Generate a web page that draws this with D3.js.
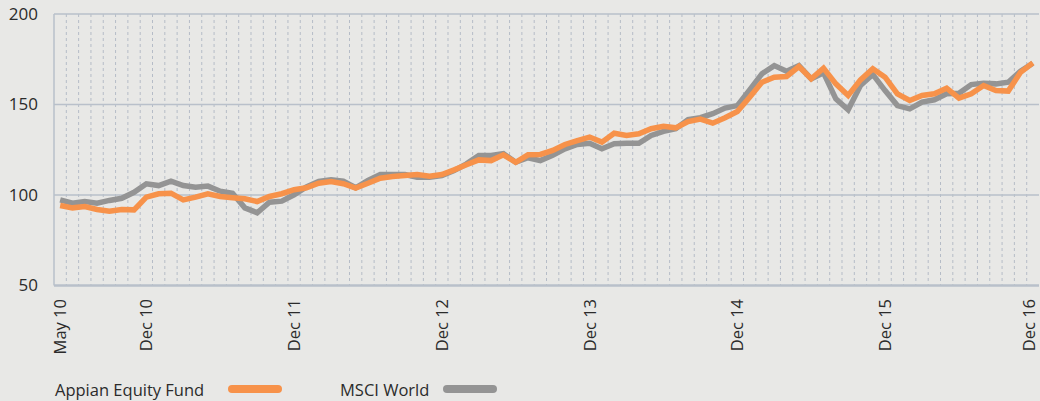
<!DOCTYPE html>
<html>
<head>
<meta charset="utf-8">
<script src="https://cdn.jsdelivr.net/npm/d3@7"></script>
<style>
    html, body { margin: 0; padding: 0; background: #e8e8e6; }
    svg { display: block; font-family: "Open Sans", "Noto Sans", sans-serif; }
    .grid line { stroke: #b9c0ca; stroke-width: 1.5px; }
    .month line { stroke: #b5bcc7; stroke-width: 1px; stroke-dasharray: 3 3; }
    .ylabel { font-size: 17px; fill: #2b2b2b; }
    .xlabel { font-size: 16.5px; fill: #2b2b2b; }
    .legend text { font-size: 16.5px; fill: #2b2b2b; }
</style>
</head>
<body>
<div id="chart"></div>
<script>
// Monthly index values, May 2010 .. Dec 2016
var startMonth = new Date(2010, 4, 1);
var endMonth = new Date(2016, 11, 1);

var appian = [
    94.2, 92.9, 93.6, 92.0, 91.0, 92.0, 91.8, 98.8, 100.7, 101.0,
    97.3, 98.8, 100.7, 99.2, 98.5, 97.9, 96.4, 99.2, 100.7, 102.9,
    104.0, 106.5, 107.5, 106.2, 103.8, 106.5, 109.3, 110.2, 110.8, 111.3,
    110.4, 111.3, 113.9, 116.7, 119.4, 119.0, 122.2, 118.1, 122.2, 122.4,
    124.6, 127.9, 130.1, 132.0, 129.2, 134.1, 132.9, 133.8, 136.6, 138.0,
    137.1, 140.6, 141.9, 139.7, 142.7, 146.1, 154.0, 162.3, 165.1, 165.5,
    171.0, 164.2, 170.1, 161.4, 155.0, 163.6, 169.7, 165.1, 155.9, 152.2,
    155.0, 155.9, 159.0, 153.5, 155.9, 160.5, 157.7, 157.4, 167.8, 173.0
];

var msci = [
    97.3, 95.5, 96.4, 95.5, 97.0, 98.2, 101.5, 106.2, 105.2, 107.6,
    105.2, 104.3, 104.9, 102.1, 101.0, 92.9, 90.2, 96.0, 96.6, 100.1,
    104.5, 107.5, 108.4, 107.6, 104.0, 108.0, 111.3, 111.3, 111.3, 109.8,
    109.8, 110.8, 113.5, 117.2, 121.8, 121.8, 122.8, 118.1, 120.6, 119.0,
    122.0, 125.5, 127.9, 128.6, 125.5, 128.3, 128.6, 128.6, 132.9, 135.2,
    136.6, 141.7, 142.7, 144.9, 148.0, 149.4, 158.1, 167.0, 171.5, 168.4,
    171.5, 164.2, 167.5, 153.1, 147.1, 160.5, 166.6, 157.7, 149.4, 147.6,
    151.3, 152.6, 155.9, 156.2, 161.0, 161.8, 161.4, 162.3, 168.4, 172.8
];

var yTicks = [50, 100, 150, 200];
var xTickLabels = ["May 10", "Dec 10", "Dec 11", "Dec 12", "Dec 13", "Dec 14", "Dec 15", "Dec 16"];

var seriesNames = ["Appian Equity Fund", "MSCI World"];
var seriesColors = ["#f7924a", "#949494"];

var width = 1040, height = 401;
var margin = { top: 14, right: 1, bottom: 115, left: 54 };

var fmtMonth = d3.timeFormat("%b %y");
var months = d3.timeMonth.range(startMonth, d3.timeMonth.offset(endMonth, 1)).map(fmtMonth);

var svg = d3.select("#chart")
    .append("svg")
    .attr("width", width)
    .attr("height", height);

var x = d3.scaleBand()
    .domain(months)
    .range([margin.left, width - margin.right])
    .padding(0);

var y = d3.scaleLinear()
    .domain([50, 200])
    .range([height - margin.bottom - 0.5, margin.top]);

// Monthly dotted lines at band edges
svg.append("g")
    .attr("class", "month")
    .selectAll("line")
    .data(months.slice(1))
    .enter()
    .append("line")
    .attr("x1", function(d) { return x(d); })
    .attr("x2", function(d) { return x(d); })
    .attr("y1", y(200))
    .attr("y2", y(50));

// Horizontal gridlines
svg.append("g")
    .attr("class", "grid")
    .selectAll("line")
    .data(yTicks)
    .enter()
    .append("line")
    .attr("x1", margin.left)
    .attr("x2", width - margin.right)
    .attr("y1", function(d) { return y(d); })
    .attr("y2", function(d) { return y(d); })
    .style("stroke-width", function(d) { return d === 50 ? "2.5px" : "1.5px"; });

// Left axis line
svg.append("line")
    .attr("x1", margin.left)
    .attr("x2", margin.left)
    .attr("y1", y(200))
    .attr("y2", y(50))
    .style("stroke", "#b9c0ca")
    .style("stroke-width", "1.5px");

// Y labels
svg.selectAll(".ylabel")
    .data(yTicks)
    .enter()
    .append("text")
    .attr("class", "ylabel")
    .attr("x", 38)
    .attr("y", function(d) { return y(d); })
    .attr("dy", "0.35em")
    .attr("text-anchor", "end")
    .text(function(d) { return d; });

// X labels, rotated (last one kept inside the frame)
svg.selectAll(".xlabel")
    .data(xTickLabels)
    .enter()
    .append("text")
    .attr("class", "xlabel")
    .attr("transform", function(d) {
        var cx = Math.min(x(d) + x.bandwidth() / 2 + 6, width - 5);
        return "translate(" + cx + "," + 299 + ") rotate(-90)";
    })
    .attr("text-anchor", "end")
    .text(function(d) { return d; });

var line = d3.line()
    .x(function(d, i) { return x(months[i]) + x.bandwidth() / 2; })
    .y(function(d) { return y(d); });

// Grey first, orange on top
[msci, appian].forEach(function(values, k) {
    svg.append("path")
        .datum(values)
        .attr("fill", "none")
        .attr("stroke", k === 0 ? seriesColors[1] : seriesColors[0])
        .attr("stroke-width", 5.5)
        .attr("stroke-linejoin", "miter")
        .attr("d", line);
});

// Legend
var legendX = [55, 340];
var swatchX = [228, 443];
var legend = svg.append("g").attr("class", "legend");

seriesNames.forEach(function(name, i) {
    legend.append("text")
        .attr("x", legendX[i])
        .attr("y", 396)
        .text(name);
    legend.append("line")
        .attr("x1", swatchX[i] + 4)
        .attr("x2", swatchX[i] + 50)
        .attr("y1", 389)
        .attr("y2", 389)
        .attr("stroke", seriesColors[i])
        .attr("stroke-width", 8)
        .attr("stroke-linecap", "round");
});
</script>
</body>
</html>
